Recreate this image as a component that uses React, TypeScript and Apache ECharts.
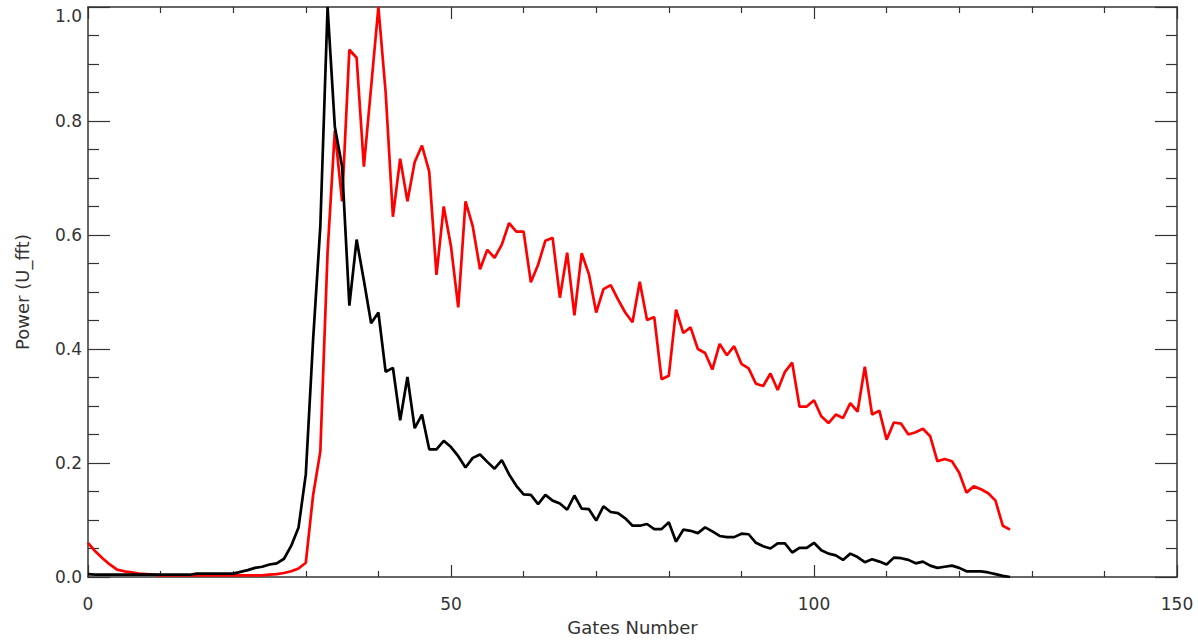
import React, { useEffect, useRef } from "react";
import * as echarts from "echarts";

const gates: number[] = Array.from({ length: 128 }, (_, i) => i);

const blackPower: number[] = [
  0.005, 0.004, 0.004, 0.004, 0.004, 0.004, 0.004, 0.004, 0.004, 0.004,
  0.004, 0.004, 0.004, 0.004, 0.004, 0.006, 0.006, 0.006, 0.006, 0.006,
  0.006, 0.009, 0.012, 0.016, 0.018, 0.022, 0.024, 0.032, 0.055, 0.087,
  0.18, 0.415, 0.615, 1.0, 0.79, 0.72, 0.476, 0.592, 0.52, 0.445,
  0.464, 0.36, 0.367, 0.275, 0.351, 0.261, 0.285, 0.224, 0.224, 0.239,
  0.228, 0.212, 0.192, 0.209, 0.215, 0.202, 0.19, 0.205, 0.18, 0.16,
  0.145, 0.144, 0.128, 0.144, 0.134, 0.129, 0.118, 0.143, 0.12, 0.119,
  0.099, 0.124, 0.114, 0.112, 0.103, 0.09, 0.09, 0.093, 0.084, 0.084,
  0.096, 0.062, 0.083, 0.081, 0.077, 0.087, 0.08, 0.072, 0.07, 0.07,
  0.076, 0.075, 0.06, 0.054, 0.05, 0.059, 0.059, 0.043, 0.051, 0.051,
  0.06, 0.047, 0.041, 0.038, 0.03, 0.041, 0.035, 0.026, 0.031, 0.027,
  0.022, 0.034, 0.033, 0.03, 0.024, 0.027, 0.02, 0.016, 0.018, 0.02,
  0.016, 0.01, 0.01, 0.01, 0.008, 0.005, 0.002, 0.0,
];

const redPower: number[] = [
  0.06, 0.045, 0.033, 0.022, 0.013, 0.01, 0.008, 0.006, 0.005, 0.004,
  0.003, 0.003, 0.003, 0.003, 0.003, 0.003, 0.003, 0.003, 0.003, 0.003,
  0.003, 0.003, 0.003, 0.003, 0.003, 0.004, 0.005, 0.007, 0.01, 0.015,
  0.025, 0.143, 0.22, 0.57, 0.783, 0.659, 0.925, 0.911, 0.72, 0.86,
  1.0, 0.85, 0.632, 0.734, 0.659, 0.728, 0.757, 0.711, 0.53, 0.65,
  0.58, 0.473, 0.659, 0.615, 0.54, 0.574, 0.56, 0.583, 0.621, 0.606,
  0.606, 0.517, 0.548, 0.59, 0.595, 0.49, 0.569, 0.459, 0.568, 0.531,
  0.464, 0.505, 0.512, 0.487, 0.464, 0.447, 0.518, 0.451, 0.456, 0.347,
  0.353, 0.469, 0.428, 0.438, 0.4, 0.393, 0.364, 0.409, 0.389, 0.405,
  0.374, 0.366, 0.339, 0.335, 0.357, 0.328, 0.36, 0.376, 0.299, 0.299,
  0.31, 0.282, 0.27, 0.285, 0.279, 0.305, 0.29, 0.369, 0.285, 0.292,
  0.241, 0.271, 0.269, 0.25, 0.254, 0.26, 0.247, 0.203, 0.207, 0.203,
  0.183, 0.148, 0.159, 0.154, 0.147, 0.134, 0.09, 0.083,
];

const xTickLabels: string[] = ["0", "50", "100", "150"];
const yTickLabels: string[] = ["0.0", "0.2", "0.4", "0.6", "0.8", "1.0"];
const xTitle = "Gates Number";
const yTitle = "Power (U_fft)";

const FONT = "DejaVu Sans";
const AXIS_COLOR = "#333";
const TEXT_COLOR = "#333";

export default function App() {
  const ref = useRef<HTMLDivElement>(null);

  useEffect(() => {
    document.body.style.margin = "0";
    if (!ref.current) return;
    const chart = echarts.init(ref.current, undefined, { renderer: "svg" });

    const xCommon = {
      type: "value" as const,
      min: 0,
      max: 150,
      interval: 50,
      splitLine: { show: false },
      axisLine: { show: true, onZero: false, lineStyle: { color: AXIS_COLOR, width: 1.5 } },
      axisTick: { show: true, inside: true, length: 12, lineStyle: { color: AXIS_COLOR, width: 1.2 } },
      minorTick: { show: true, splitNumber: 5, length: 6, lineStyle: { color: AXIS_COLOR, width: 1.2 } },
      minorSplitLine: { show: false },
    };
    const yCommon = {
      type: "value" as const,
      min: 0,
      max: 1,
      interval: 0.2,
      splitLine: { show: false },
      axisLine: { show: true, onZero: false, lineStyle: { color: AXIS_COLOR, width: 1.5 } },
      axisTick: { show: true, inside: true, length: 22, lineStyle: { color: AXIS_COLOR, width: 1.2 } },
      minorTick: { show: true, splitNumber: 4, length: 11, lineStyle: { color: AXIS_COLOR, width: 1.2 } },
      minorSplitLine: { show: false },
    };

    chart.setOption({
      animation: false,
      backgroundColor: "#ffffff",
      grid: { left: 88, right: 21, top: 7, bottom: 59, containLabel: false },
      xAxis: [
        {
          ...xCommon,
          position: "bottom",
          name: xTitle,
          nameLocation: "middle",
          nameGap: 41,
          nameTextStyle: { fontFamily: FONT, fontSize: 18, color: TEXT_COLOR },
          axisLabel: {
            show: true,
            margin: 18,
            fontFamily: FONT,
            fontSize: 17,
            color: TEXT_COLOR,
            formatter: (v: number) => xTickLabels[Math.round(v / 50)] ?? String(v),
          },
        },
        {
          ...xCommon,
          position: "top",
          axisLabel: { show: false },
        },
      ],
      yAxis: [
        {
          ...yCommon,
          position: "left",
          name: yTitle,
          nameLocation: "middle",
          nameGap: 57,
          nameRotate: 90,
          nameTextStyle: { fontFamily: FONT, fontSize: 18, color: TEXT_COLOR },
          axisLabel: {
            show: true,
            margin: 6,
            fontFamily: FONT,
            fontSize: 17,
            color: TEXT_COLOR,
            verticalAlignMaxLabel: "top",
            verticalAlignMinLabel: "middle",
            formatter: (v: number) => yTickLabels[Math.round(v / 0.2)] ?? String(v),
          },
        },
        {
          ...yCommon,
          position: "right",
          axisLabel: { show: false },
        },
      ],
      series: [
        {
          type: "line",
          name: "black",
          xAxisIndex: 0,
          yAxisIndex: 0,
          data: gates.map((g, i) => [g, blackPower[i]]),
          showSymbol: false,
          lineStyle: { color: "#000000", width: 2.7 },
          clip: true,
          z: 3,
        },
        {
          type: "line",
          name: "red",
          xAxisIndex: 0,
          yAxisIndex: 0,
          data: gates.map((g, i) => [g, redPower[i]]),
          showSymbol: false,
          lineStyle: { color: "#ff0000", width: 2.7 },
          clip: true,
          z: 2,
        },
      ],
    });

    return () => chart.dispose();
  }, []);

  return <div ref={ref} style={{ width: 1198, height: 641 }} />;
}
